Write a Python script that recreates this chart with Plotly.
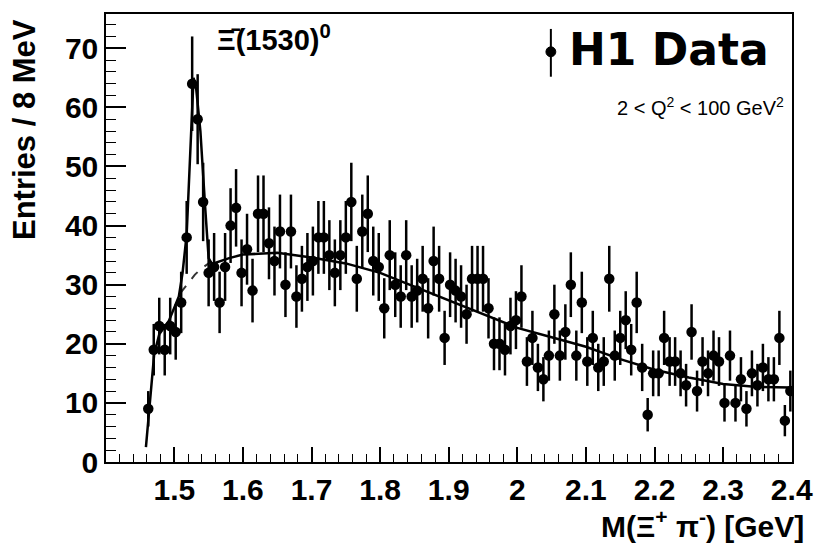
import math
import plotly.graph_objects as go

# ---- data ----
bin_first_center = 1.462   # GeV
bin_width = 0.008          # GeV (8 MeV bins)
entries = [9, 19, 23, 19, 23, 22, 27, 38, 64, 58, 44, 32, 33, 27, 33, 40, 43, 32, 36, 29,
           42, 42, 37, 34, 39, 30, 39, 28, 31, 33, 34, 38, 38, 35, 32, 35,
           38, 44, 31, 39, 42, 34, 33, 26, 35, 30, 28, 35, 28, 29, 31, 26, 34, 31, 21, 30,
           29, 28, 25, 31, 31, 31, 26, 20, 20, 19, 23, 24, 28, 17, 21, 16, 14, 18, 25, 18,
           22, 30,
           18, 27, 17, 21, 16, 17, 31, 18, 21, 24, 19, 27, 16, 8, 15, 15, 21, 17, 17, 15,
           13, 22, 12, 17, 15, 18, 17, 10, 18, 10, 14, 9, 15, 13, 16, 14, 14, 21, 7, 12]
mass = [round(bin_first_center + bin_width * i, 4) for i in range(len(entries))]
stat_err = [math.sqrt(n) for n in entries]

fit_x = [1.4586, 1.4634, 1.4706, 1.478, 1.4922, 1.5066, 1.512, 1.518, 1.523, 1.528,
         1.532, 1.538, 1.545, 1.550, 1.555, 1.565, 1.58, 1.60, 1.65, 1.70, 1.75, 1.80,
         1.85, 1.90, 1.95, 2.00, 2.05, 2.10, 2.15, 2.20, 2.25, 2.30, 2.35, 2.398]
fit_y = [2.5, 9.0, 18.2, 21.6, 23.9, 28.0, 32.0, 38.5, 52.0, 65.0,
         63.0, 56.0, 43.0, 34.5, 33.5, 33.9, 34.5, 35.1, 35.4, 34.6, 33.6, 32.0,
         29.7, 27.4, 25.0, 22.7, 21.1, 19.5, 17.4, 15.6, 14.3, 13.2, 12.7, 12.6]

bkg_x = [1.509, 1.52, 1.53, 1.54, 1.55, 1.558]
bkg_y = [28.6, 30.3, 31.7, 32.8, 33.6, 34.0]

x_tick_vals = [1.5, 1.6, 1.7, 1.8, 1.9, 2.0, 2.1, 2.2, 2.3, 2.4]
x_tick_text = ["1.5", "1.6", "1.7", "1.8", "1.9", "2", "2.1", "2.2", "2.3", "2.4"]
y_tick_vals = [0, 10, 20, 30, 40, 50, 60, 70]

# ---- figure ----
W, H = 825, 547
L, R, T, B = 106, 24, 12, 85
pw, ph = W - L - R, H - T - B

def px2paper_x(px):
    return (px - L) / pw

def px2paper_y(py):
    return (H - B - py) / ph

fig = go.Figure()

fig.add_trace(go.Scatter(
    x=bkg_x, y=bkg_y, mode="lines",
    line=dict(color="#333333", width=2, dash="dash"),
    showlegend=False, hoverinfo="skip"))

fig.add_trace(go.Scatter(
    x=fit_x, y=fit_y, mode="lines",
    line=dict(color="black", width=2.5),
    showlegend=False, hoverinfo="skip"))

fig.add_trace(go.Scatter(
    x=mass, y=entries, mode="markers",
    marker=dict(color="black", size=10.5, symbol="circle"),
    error_y=dict(type="data", array=stat_err, visible=True,
                 color="black", thickness=2.5, width=0),
    showlegend=False))

bold = "Liberation Sans, Arial, sans-serif"

fig.update_layout(
    width=W, height=H,
    margin=dict(l=L, r=R, t=T, b=B),
    paper_bgcolor="white", plot_bgcolor="white",
    showlegend=False,
    xaxis=dict(
        range=[1.4004, 2.4004],
        tickmode="array", tickvals=x_tick_vals, ticktext=x_tick_text,
        ticks="inside", ticklen=15, tickwidth=1.5, tickcolor="black",
        minor=dict(dtick=0.02, tick0=1.4, ticks="inside", ticklen=8,
                   tickwidth=1.2, tickcolor="black", showgrid=False),
        showline=True, linecolor="black", linewidth=1.5, mirror=True,
        showgrid=False, zeroline=False,
        tickfont=dict(family=bold, size=30, color="black", weight="bold"),
    ),
    yaxis=dict(
        range=[0, 75.8],
        tickmode="array", tickvals=y_tick_vals,
        ticks="inside", ticklen=20, tickwidth=1.5, tickcolor="black",
        minor=dict(dtick=2, tick0=0, ticks="inside", ticklen=10,
                   tickwidth=1.2, tickcolor="black", showgrid=False),
        showline=True, linecolor="black", linewidth=1.5, mirror=True,
        showgrid=False, zeroline=False,
        tickfont=dict(family=bold, size=30, color="black", weight="bold"),
    ),
)

annotations = [
    dict(text="Entries / 8 MeV", textangle=-90,
         x=px2paper_x(24), y=px2paper_y(128.5), xanchor="center", yanchor="middle",
         font=dict(family=bold, size=31, color="black", weight="bold")),
    dict(text="M(Ξ<sup>+</sup> π<sup>-</sup>) [GeV]",
         x=px2paper_x(815), y=px2paper_y(524), xanchor="right", yanchor="middle",
         font=dict(family=bold, size=30, color="black", weight="bold")),
    dict(text="Ξ\u0304(1530)<sup>0</sup>",
         x=px2paper_x(216), y=px2paper_y(36), xanchor="left", yanchor="middle",
         font=dict(family=bold, size=29, color="black", weight="bold")),
    dict(text="H1 Data",
         x=px2paper_x(676.5), y=px2paper_y(48), xanchor="center", yanchor="middle",
         font=dict(family="DejaVu Sans, sans-serif", size=44, color="black", weight="bold")),
    dict(text="2 < Q<sup>2</sup> < 100 GeV<sup>2</sup>",
         x=px2paper_x(708), y=px2paper_y(105), xanchor="center", yanchor="middle",
         font=dict(family="Liberation Sans, Arial, sans-serif", size=20, color="black")),
]
for a in annotations:
    a.update(xref="paper", yref="paper", showarrow=False)
fig.update_layout(annotations=annotations)

# legend symbol for the data (marker with error bar)
cx, cy, r = 556.7, 50, 5
fig.add_shape(type="line", xref="paper", yref="paper",
              x0=px2paper_x(cx), x1=px2paper_x(cx),
              y0=px2paper_y(27), y1=px2paper_y(75),
              line=dict(color="black", width=2))
fig.add_shape(type="circle", xref="paper", yref="paper",
              x0=px2paper_x(cx - r), x1=px2paper_x(cx + r),
              y0=px2paper_y(cy + r), y1=px2paper_y(cy - r),
              line=dict(color="black", width=1), fillcolor="black")

fig.write_html("out.html")
